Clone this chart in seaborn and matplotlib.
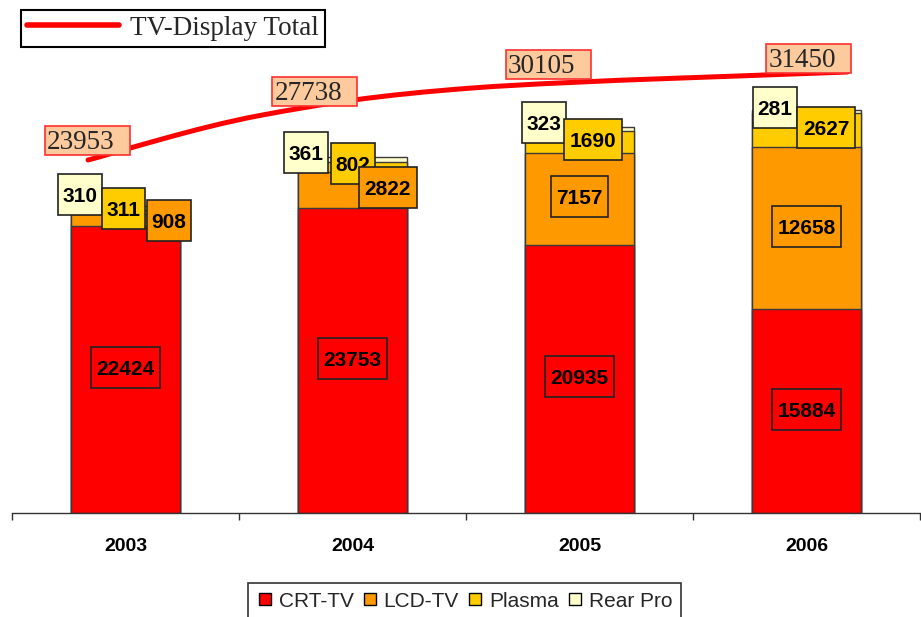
import matplotlib
matplotlib.use('Agg')
import matplotlib.pyplot as plt
import seaborn as sns
import numpy as np
from matplotlib.path import Path
from matplotlib.patches import PathPatch
from matplotlib.lines import Line2D

# ---------------- data ----------------
years = ['2003', '2004', '2005', '2006']
series_names = ['CRT-TV', 'LCD-TV', 'Plasma', 'Rear Pro']
crt = [22424, 23753, 20935, 15884]
lcd = [908, 2822, 7157, 12658]
plasma = [311, 802, 1690, 2627]
rear = [310, 361, 323, 281]
totals = [23953, 27738, 30105, 31450]
line_name = 'TV-Display Total'

# ---------------- style / layout ----------------
colors = {'CRT-TV': '#FF0000', 'LCD-TV': '#FF9900', 'Plasma': '#FFCC00', 'Rear Pro': '#FFFFCC'}
# x positions (category units) of the total curve's points
line_x = [-0.165, 0.59, 1.54, 3.18]
# label offsets (pixels) from curve points: (dx, dy up)
line_label_off = [(-41, 17), (15, 22), (33, 21), (-79, 11.5)]
# small-segment label placement: (dx category units from bar centre, dy pixels from bar top)
small_layout = {
    (0, 'Rear Pro'): (-0.20, 9), (0, 'Plasma'): (-0.007, -5), (0, 'LCD-TV'): (0.19, -17),
    (1, 'Rear Pro'): (-0.205, 2.4), (1, 'Plasma'): (0.002, -8.6), (1, 'LCD-TV'): (0.156, -32.6),
    (2, 'Rear Pro'): (-0.156, 3), (2, 'Plasma'): (0.06, -14),
    (3, 'Rear Pro'): (-0.139, 0), (3, 'Plasma'): (0.086, -20),
}

sns.set_theme(style='white')
plt.rcParams['font.family'] = ['Liberation Sans', 'DejaVu Sans']

DPI = 100
fig = plt.figure(figsize=(9.21, 6.17), dpi=DPI)
ax = fig.add_axes([12 / 921, 1 - 513 / 617, 908 / 921, 508 / 617])

values = {'CRT-TV': crt, 'LCD-TV': lcd, 'Plasma': plasma, 'Rear Pro': rear}
stack = np.array([values[n] for n in series_names], dtype=float)
cum = np.cumsum(stack, axis=0)

for i in reversed(range(len(series_names))):
    sns.barplot(x=years, y=cum[i], order=years, color=colors[series_names[i]],
                saturation=1, width=0.48, edgecolor='#3a3a3a', linewidth=1,
                errorbar=None, ax=ax, zorder=2)

ax.set_xlim(-0.5, 3.5)
ax.set_ylim(0, 508 * 78)
ax.set_yticks([])
ax.set_xlabel('')
ax.set_ylabel('')
for s in ['left', 'top', 'right']:
    ax.spines[s].set_visible(False)
ax.spines['bottom'].set_color('#333333')
ax.spines['bottom'].set_linewidth(1)
ax.set_xticks(range(len(years)))
ax.set_xticklabels(years, fontweight='bold', fontsize=14, color='black')
ax.tick_params(axis='x', which='major', length=0, pad=18)
ax.set_xticks(np.arange(-0.5, len(years), 1.0), minor=True)
ax.tick_params(axis='x', which='minor', length=5, width=1, color='#333333',
               direction='out', bottom=True)


def box(l, r, b, t):
    def f(x0, y0, width, height, mutation_size):
        return Path([(x0 - l, y0 - b), (x0 + width + r, y0 - b),
                     (x0 + width + r, y0 + height + t), (x0 - l, y0 + height + t),
                     (x0 - l, y0 - b)], closed=True)
    return f


px2pt = 72 / DPI

# bar segment labels
for i in range(len(years)):
    for k in [3, 2, 1, 0]:
        name = series_names[k]
        val = int(stack[k, i])
        txt = str(val)
        if (i, name) in small_layout:
            dx, dy = small_layout[(i, name)]
            xy = (i + dx, cum[-1, i])
            off = (0, dy * px2pt)
        else:
            xy = (i, cum[k, i] - stack[k, i] / 2)
            off = (0, 0)
        padx = 4.5 if len(txt) <= 3 else 5.5
        ax.annotate(txt, xy=xy, xytext=off, textcoords='offset points',
                    ha='center', va='center', fontsize=15, fontweight='bold',
                    color='black', zorder=6,
                    bbox=dict(boxstyle=box(padx, padx, 9, 13), facecolor=colors[name],
                              edgecolor='#222222', linewidth=1.2))

# total line on secondary axis
ax2 = ax.twinx()
ax2.set_ylim(-6123, 37159)
ax2.set_axis_off()
pts = np.column_stack([line_x, totals]).astype(float)
ext = np.vstack([pts[0], pts, pts[-1]])
verts = [tuple(pts[0])]
codes = [Path.MOVETO]
for k in range(len(pts) - 1):
    p0, p1, p2, p3 = ext[k], ext[k + 1], ext[k + 2], ext[k + 3]
    c1 = p1 + (p2 - p0) / 6
    c2 = p2 - (p3 - p1) / 6
    verts += [tuple(c1), tuple(c2), tuple(p2)]
    codes += [Path.CURVE4] * 3
ax2.add_patch(PathPatch(Path(verts, codes), fill=False, edgecolor='#FF0000',
                        lw=3.6, capstyle='round', zorder=5))

for (x, y), v, (ox, oy) in zip(pts, totals, line_label_off):
    ax2.annotate(str(v), xy=(x, y), xytext=(ox * px2pt, oy * px2pt),
                 textcoords='offset points', ha='left', va='center',
                 fontsize=19.5, family=['Liberation Serif', 'DejaVu Serif'],
                 color='#262626', zorder=7,
                 bbox=dict(boxstyle=box(2, 15, 0, 4), facecolor='#FCCA9C',
                           edgecolor='#FF3030', linewidth=1.2))

# legends
leg1 = fig.legend(handles=[Line2D([], [], color='#FF0000', lw=4, solid_capstyle='round')],
                  labels=[line_name], loc='upper left',
                  bbox_to_anchor=(21 / 921, 1 - 10 / 617), borderaxespad=0,
                  frameon=True, fancybox=False, edgecolor='black', framealpha=1,
                  handlelength=3.4, handletextpad=0.42, borderpad=0.22,
                  prop={'family': ['Liberation Serif'], 'size': 19.5})
leg1.get_frame().set_linewidth(1.5)

handles = [Line2D([], [], marker='s', ls='none', markersize=8,
                  markerfacecolor=colors[n], markeredgecolor='black',
                  markeredgewidth=1) for n in series_names]
leg2 = fig.legend(handles, series_names, loc='upper left',
                  bbox_to_anchor=(248 / 921, 1 - 583 / 617), ncol=4, borderaxespad=0,
                  frameon=True, fancybox=False, edgecolor='#333333', framealpha=1,
                  handlelength=0.75, handletextpad=0.3, columnspacing=0.4,
                  borderpad=0.42, prop={'size': 15})
leg2.get_frame().set_linewidth(1.2)

fig.savefig('out.png', dpi=DPI)
